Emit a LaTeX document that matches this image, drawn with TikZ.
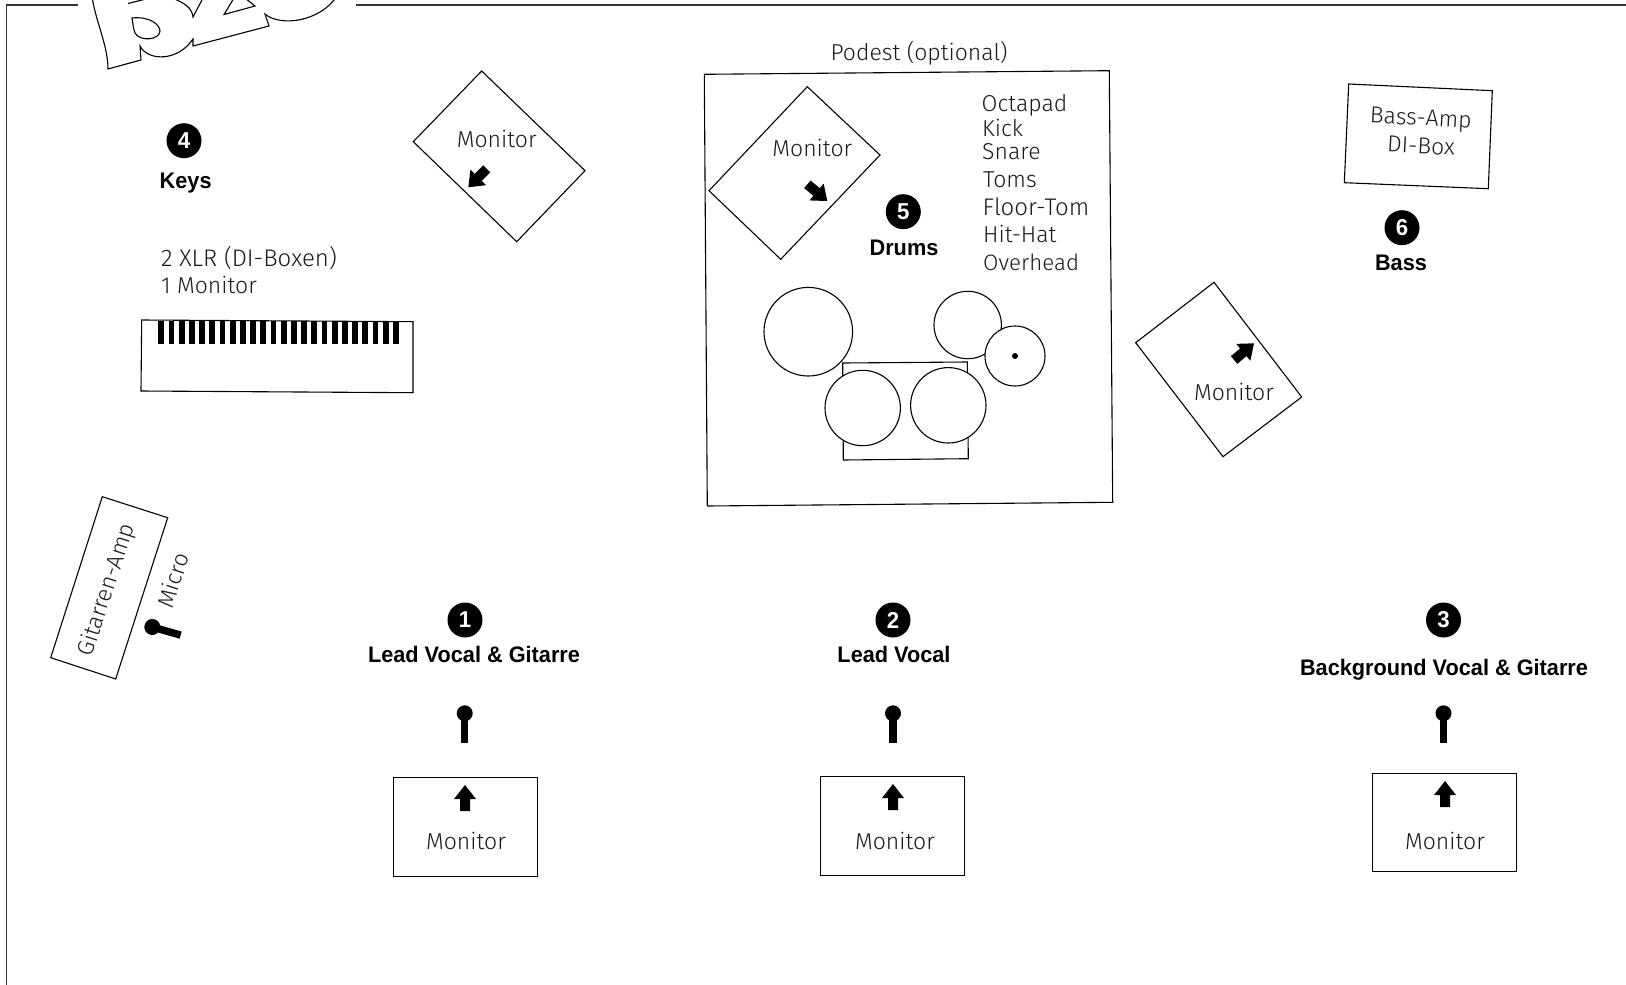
\documentclass[tikz,border=0pt]{standalone}
\usepackage{fontspec}
\setmainfont{Fira Sans Light}
\newfontfamily\boldfam{Liberation Sans}[BoldFont={Liberation Sans Bold},BoldFeatures={FakeStretch=0.965}]
\tikzset{
  ln/.style={draw=black,line width=1.1pt,line join=miter},
  drum/.style={draw=black,fill=white,line width=1.1pt},
  lbl/.style={anchor=base,inner sep=0pt,font=\fontsize{23}{23}\selectfont,text=black!90},
  lsl/.style={lbl,anchor=base west},
  lslw/.style={lsl,font=\fontsize{24}{24}\selectfont},
  bld/.style={anchor=base,inner sep=0pt,font=\boldfam\bfseries\fontsize{22.5}{23}\selectfont},
  num/.style={circle,fill=black,text=white,minimum size=35pt,inner sep=0pt,font=\boldfam\bfseries\fontsize{23}{23}\selectfont},
  arrowshape/.pic={\fill[black] (0,0)--(11,14)--(5,14)--(5,26)--(-5,26)--(-5,14)--(-11,14)--cycle;},
  micshape/.pic={\fill[black] (0,0) circle (8); \fill[black] (-3.7,0) rectangle (3.7,29.5);}
}
\begin{document}
\begin{tikzpicture}[x=1pt,y=-1pt]
\useasboundingbox (0,0) rectangle (1626,985);
\clip (0,0) rectangle (1626,985);
% frame
\draw[draw=black!80,line width=1.4pt] (6.5,985)--(6.5,5)--(78,5);
\draw[draw=black!80,line width=1.4pt] (356,5)--(1626,5);
% logo
\draw[ln,fill=white] (92,-4) .. controls (95,20) and (108,45) .. (108,69) -- (141,60) -- (140,46) .. controls (148,61.5) and (178,61.5) .. (193,39) -- (193,46) -- (269,26) -- (265,14) .. controls (280,27) and (320,22) .. (337,-4) -- cycle;
\draw[ln] (128,3.5) -- (150,-2);
\draw[ln] (172,-2) .. controls (185,3) and (192,8) .. (193,17) -- (203,-2);
\draw[ln] (234,-2) -- (224,14.5) -- (255,6) -- (245,-2);
\draw[ln] (132,18) .. controls (150,16) and (160,25) .. (160,31) .. controls (160,40) and (140,42) .. (135,33) .. controls (133,28) and (133,23) .. (132,18) -- cycle;
% keys
\draw[ln] (141.7,320)--(413,321.7)--(413,392.7)--(141,391)--cycle;
\foreach \k in {0,...,23} \fill[black] ({158.3+10.2*\k},320.6) rectangle +(5.8,23.5);
\node[num] (n4) at (184,140.7) {4};
\node[bld] (keys) at (185.7,188.3) {Keys};
\node[lslw] (xlr) at (161,266) {2 XLR (DI-Boxen)};
\node[lsl] (mon1) at (161,293) {1 Monitor};
% top-left monitor
\draw[ln] (481.7,71)--(585,170.7)--(516.7,241.7)--(413.3,141.7)--cycle;
\node[lbl] (m4) at (496.7,147.5) {Monitor};
\pic[rotate=135] at (468.3,187.3) {arrowshape};
% guitar amp
\draw[ln] (102.3,496.7)--(167.7,517.7)--(115.7,679)--(50.7,657.7)--cycle;
\node[lbl,rotate=72,anchor=center] (gamp) at (107,590) {Gitarren-Amp};
\node[lbl,rotate=72,anchor=center] (micro) at (173,580) {Micro};
\pic[rotate=74] at (152.3,627) {micshape};
% podest
\draw[ln] (704.3,74.3)--(1109.3,70.7)--(1112.7,502.3)--(707.3,506)--cycle;
\node[lbl] (pod) at (919,60) {Podest (optional)};
\draw[ln] (807.3,86.7)--(880,155)--(780.7,259.3)--(709,190.7)--cycle;
\node[lbl] (m5) at (812.3,156) {Monitor};
\pic[rotate=-130] at (827.3,201) {arrowshape};
\node[num] (n5) at (903.3,211.7) {5};
\node[bld] (drums) at (904,255) {Drums};
\node[lsl] (i1) at (981.5,111.7) {Octapad};
\node[lsl] (i2) at (982,136) {Kick};
\node[lsl] (i3) at (982,159.3) {Snare};
\node[lsl] (i4) at (983,187.3) {Toms};
\node[lslw] (i5) at (982.5,215) {Floor-Tom};
\node[lsl] (i6) at (983,242.7) {Hit-Hat};
\node[lsl,font=\fontsize{22.3}{23}\selectfont] (i7) at (983,270.7) {Overhead};
% drums
\draw[drum] (808.3,331.7) circle (44.3);
\draw[drum] (967.7,325) circle (33.7);
\draw[drum] (1015,356) circle (30);
\fill[black] (1015,356) circle (3);
\draw[ln] (842.7,363)--(967.3,362)--(968.3,458.7)--(843.3,460)--cycle;
\draw[drum] (862.7,408) circle (37.7);
\draw[drum] (948.3,405.3) circle (37.7);
% bass
\draw[ln] (1348.7,84)--(1492.3,90.7)--(1488.3,188.7)--(1344.3,182.7)--cycle;
\node[lbl,rotate=-3,anchor=center] (ba) at (1420.7,120) {Bass-Amp};
\node[lbl,rotate=-3,anchor=center] (di) at (1421,146) {DI-Box};
\node[num] (n6) at (1402,227.7) {6};
\node[bld] (bass) at (1401,270.7) {Bass};
% right monitor
\draw[ln] (1214,282.3)--(1301.7,397)--(1223,456.7)--(1135.7,342.7)--cycle;
\node[lbl] (m6) at (1234,400.5) {Monitor};
\pic[rotate=-50] at (1254,343.3) {arrowshape};
% front line
\node[num] (n1) at (465,620) {1};
\node[bld] (t1) at (474,662.7) {Lead Vocal \& Gitarre};
\pic at (464.7,713.3) {micshape};
\draw[ln] (393.5,777.5) rectangle (537.5,876.5);
\pic at (465,785) {arrowshape};
\node[lbl] (m1) at (466,849) {Monitor};
\node[num] (n2) at (893,620) {2};
\node[bld] (t2) at (894,662.7) {Lead Vocal};
\pic at (893,713.3) {micshape};
\draw[ln] (820.5,776.5) rectangle (964.5,875.5);
\pic at (893,784) {arrowshape};
\node[lbl] (m2) at (895,849) {Monitor};
\node[num] (n3) at (1443.5,620) {3};
\node[bld] (t3) at (1444,675) {Background Vocal \& Gitarre};
\pic at (1443.5,713.3) {micshape};
\draw[ln] (1372.5,773.5) rectangle (1516.5,871.5);
\pic at (1445,781) {arrowshape};
\node[lbl] (m3) at (1445,849) {Monitor};
\end{tikzpicture}
\end{document}
